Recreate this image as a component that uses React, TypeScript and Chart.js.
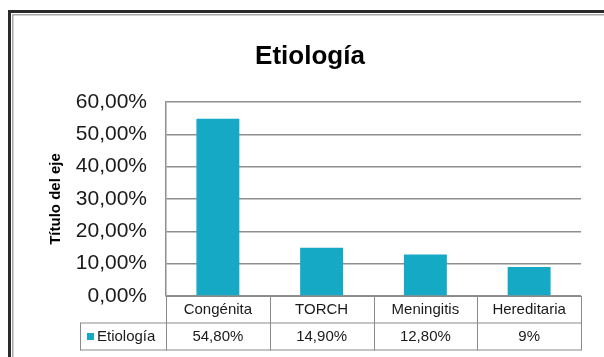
import React, { useEffect, useRef } from "react";
import { Chart, registerables } from "chart.js";

Chart.register(...registerables);

const categories = ["Congénita", "TORCH", "Meningitis", "Hereditaria"];
const seriesName = "Etiología";
const values = [0.548, 0.149, 0.128, 0.09];
const tableLabels = ["54,80%", "14,90%", "12,80%", "9%"];
const chartTitle = "Etiología";
const yAxisTitle = "Título del eje";

const BAR_COLOR = "#16A9C6";
const GRID_COLOR = "#8e8e8e";
const TABLE_COLOR = "#8a8a8a";
const FONT = "'Liberation Sans', Arial, sans-serif";

const framePlugin = {
  id: "frame",
  beforeDraw(chart: any) {
    const ctx = chart.ctx;
    ctx.save();
    ctx.fillStyle = "#ffffff";
    ctx.fillRect(0, 0, chart.width, chart.height);
    ctx.fillStyle = "#2a2a2a";
    ctx.fillRect(8, 10, 3, chart.height);
    ctx.fillRect(8, 10, chart.width, 3);
    ctx.fillStyle = "#a8a8a8";
    ctx.fillRect(12, 14, 1.5, chart.height);
    ctx.fillRect(12, 14, chart.width, 1.5);
    ctx.restore();
  },
};

const titlePlugin = {
  id: "customTitle",
  afterDraw(chart: any) {
    const ctx = chart.ctx;
    ctx.save();
    ctx.fillStyle = "#000";
    ctx.font = `bold 26px ${FONT}`;
    ctx.textAlign = "center";
    ctx.textBaseline = "middle";
    ctx.fillText(chartTitle, 310, 57);
    ctx.restore();
  },
};

const tablePlugin = {
  id: "dataTable",
  afterDraw(chart: any) {
    const ctx = chart.ctx;
    const area = chart.chartArea;
    const n = categories.length;
    const colW = (area.right - area.left) / n;
    const y0 = area.bottom;
    const y1 = y0 + 26.5;
    const y2 = y1 + 27;
    const keyLeft = 80.5;
    ctx.save();
    ctx.strokeStyle = TABLE_COLOR;
    ctx.lineWidth = 1;
    ctx.beginPath();
    ctx.moveTo(area.left, y0 + 0.5);
    ctx.lineTo(area.right, y0 + 0.5);
    ctx.moveTo(keyLeft, y1 + 0.5);
    ctx.lineTo(area.right, y1 + 0.5);
    ctx.moveTo(keyLeft, y2 + 0.5);
    ctx.lineTo(area.right, y2 + 0.5);
    ctx.moveTo(keyLeft, y1);
    ctx.lineTo(keyLeft, y2 + 1);
    for (let i = 0; i <= n; i++) {
      const x = Math.round(area.left + i * colW) + 0.5;
      ctx.moveTo(x, y0);
      ctx.lineTo(x, y2 + 1);
    }
    ctx.stroke();

    ctx.fillStyle = "#1a1a1a";
    ctx.font = `15px ${FONT}`;
    ctx.textAlign = "center";
    ctx.textBaseline = "middle";
    for (let i = 0; i < n; i++) {
      const cx = area.left + (i + 0.5) * colW;
      ctx.fillText(categories[i], cx, (y0 + y1) / 2 + 1);
      ctx.fillText(tableLabels[i], cx, (y1 + y2) / 2 + 1);
    }
    ctx.fillStyle = BAR_COLOR;
    ctx.fillRect(87, 333, 7, 7);
    ctx.fillStyle = "#1a1a1a";
    ctx.textAlign = "left";
    ctx.fillText(seriesName, 97, (y1 + y2) / 2 + 1);
    ctx.restore();
  },
};

export default function App() {
  const canvasRef = useRef<HTMLCanvasElement | null>(null);

  useEffect(() => {
    if (!canvasRef.current) return;
    const chart = new Chart(canvasRef.current, {
      type: "bar",
      data: {
        labels: categories,
        datasets: [
          {
            label: seriesName,
            data: values,
            backgroundColor: BAR_COLOR,
            borderWidth: 0,
            barPercentage: 0.414,
            categoryPercentage: 1,
          },
        ],
      },
      options: {
        responsive: false,
        animation: false,
        devicePixelRatio: 1,
        layout: { padding: { top: 102, right: 23, bottom: 61, left: 0 } },
        plugins: {
          legend: { display: false },
          tooltip: { enabled: false },
          title: { display: false },
        },
        scales: {
          x: {
            display: false,
          },
          y: {
            min: 0,
            max: 0.6,
            afterFit(scale: any) {
              scale.width = 166;
            },
            ticks: {
              stepSize: 0.1,
              padding: 19,
              color: "#1a1a1a",
              font: { family: FONT, size: 21 },
              callback: (v: any) =>
                (Number(v) * 100).toFixed(2).replace(".", ",") + "%",
            },
            grid: {
              color: GRID_COLOR,
              lineWidth: 1.5,
              drawTicks: false,
            },
            border: { display: true, color: GRID_COLOR, width: 1.5 },
            title: {
              display: true,
              text: yAxisTitle,
              color: "#000",
              font: { family: FONT, size: 15, weight: "bold", lineHeight: 1.2 },
              padding: { top: 47, bottom: 0 },
            },
          },
        },
      },
      plugins: [framePlugin, tablePlugin, titlePlugin],
    });
    return () => chart.destroy();
  }, []);

  return (
    <div style={{ position: "absolute", left: 0, top: 0, width: 604, height: 357 }}>
      <canvas ref={canvasRef} width={604} height={357} style={{ display: "block" }} />
    </div>
  );
}
